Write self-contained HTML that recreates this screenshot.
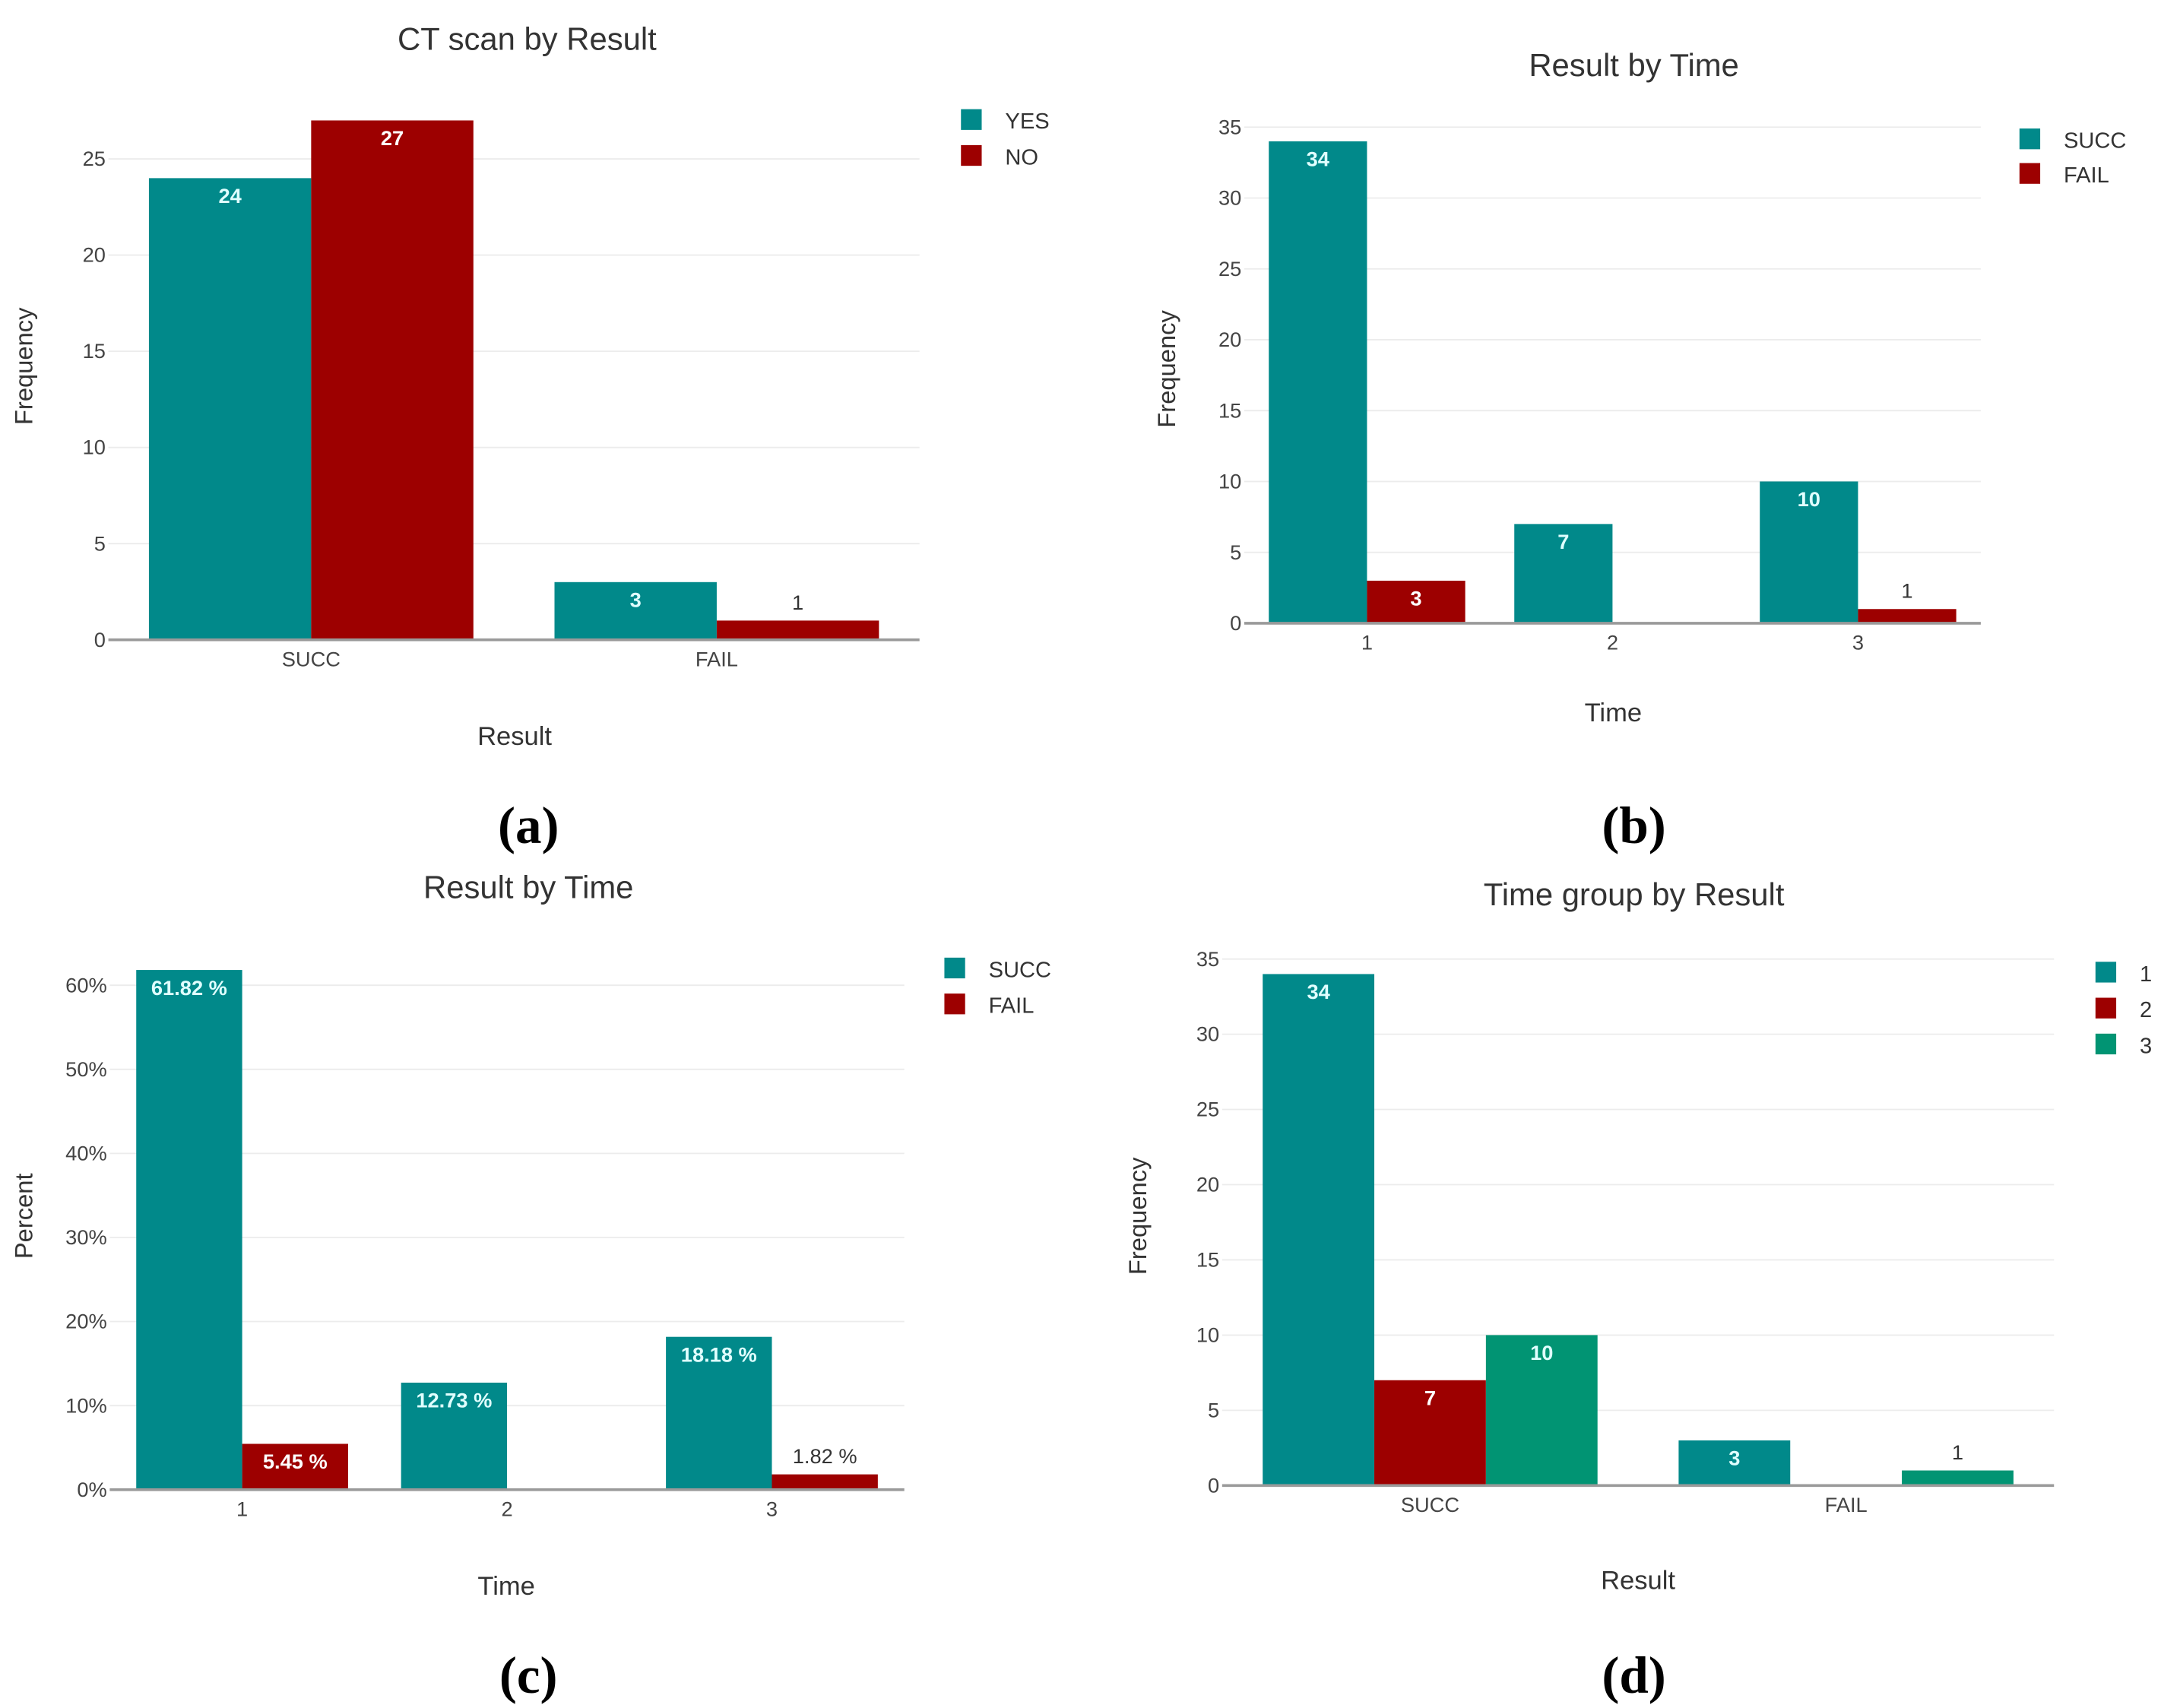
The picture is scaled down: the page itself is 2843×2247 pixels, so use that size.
<!DOCTYPE html>
<html><head><meta charset="utf-8"><style>
html,body{margin:0;padding:0;background:#fff}
svg{display:block}
text{font-family:"Liberation Sans",sans-serif}
</style></head><body>
<svg id="root" width="2843" height="2247" viewBox="0 0 1563 1236" xmlns="http://www.w3.org/2000/svg"></svg>
<script>
// Panel (a)
const aCategories = ["SUCC", "FAIL"];
const aSeriesNames = ["YES", "NO"];
const aYes = [24, 3];
const aNo = [27, 1];
const aTicks = [0, 5, 10, 15, 20, 25];
// Panel (b)
const bCategories = ["1", "2", "3"];
const bSeriesNames = ["SUCC", "FAIL"];
const bSucc = [34, 7, 10];
const bFail = [3, 0, 1];
const bTicks = [0, 5, 10, 15, 20, 25, 30, 35];
// Panel (c)
const cCategories = ["1", "2", "3"];
const cSeriesNames = ["SUCC", "FAIL"];
const cSucc = [61.82, 12.73, 18.18];
const cFail = [5.45, 0, 1.82];
const cTicks = [0, 10, 20, 30, 40, 50, 60];
// Panel (d)
const dCategories = ["SUCC", "FAIL"];
const dSeriesNames = ["1", "2", "3"];
const dT1 = [34, 3];
const dT2 = [7, 0];
const dT3 = [10, 1];
const dTicks = [0, 5, 10, 15, 20, 25, 30, 35];

const TEAL = "#01898a", RED = "#9d0000", GREEN = "#019473";
const NS = "http://www.w3.org/2000/svg";
const root = document.getElementById("root");
function mk(tag, attrs, parent, txt) {
  const e = document.createElementNS(NS, tag);
  for (const k in attrs) e.setAttribute(k, attrs[k]);
  if (txt !== undefined) e.textContent = txt;
  parent.appendChild(e);
  return e;
}

function panel(cfg) {
  const g = mk("g", {}, root);
  
  
  const y = v => cfg.y0 - (v - cfg.vmin) / (cfg.vmax - cfg.vmin) * (cfg.y0 - cfg.yTop);
  const band = (cfg.x1 - cfg.x0) / cfg.cats.length;
  const xc = i => cfg.x0 + band * (i + 0.5);
  // grid + ticks
  cfg.ticks.forEach(t => {
    if (t !== cfg.ticks[0]) {
      const l = mk("line", {x1: cfg.x0, x2: cfg.x1, y1: y(t), y2: y(t), stroke: "#ececec", "stroke-width": 1}, g);
      
      
    }
    const tx = mk("text", {x: cfg.x0 - 2, y: y(t) + 5, "text-anchor": "end", "font-size": 15, fill: "#444"}, g, t + (cfg.pct ? "%" : ""));
    
    
  });
  // bars
  const nS = cfg.series.length;
  const bw = band * cfg.fill / nS;
  cfg.series.forEach((vals, s) => {
    vals.forEach((v, i) => {
      if (v <= 0) return;
      const bx = xc(i) - band * cfg.fill / 2 + s * bw;
      const r = mk("rect", {x: bx, y: y(v), width: bw, height: y(0) - y(v), fill: cfg.colors[s]}, g);
      
      
      const h = y(0) - y(v);
      const lab = cfg.pct ? v.toFixed(2) + " %" : String(v);
      const inside = h > 22;
      const fill = inside ? (cfg.colors[s] === RED ? "#fff" : "#e0ffff") : "#333";
      const t = mk("text", {x: bx + bw / 2, y: inside ? y(v) + 18 : y(v) - 8, "text-anchor": "middle", "font-size": 15, fill: fill, "font-weight": inside ? "bold" : "normal"}, g, lab);
      
      
    });
  });
  // axis line
  const ax = mk("line", {x1: cfg.x0, x2: cfg.x1, y1: y(0), y2: y(0), stroke: "#9a9a9a", "stroke-width": 2}, g);
  
  
  cfg.cats.forEach((c, i) => {
    const t = mk("text", {x: xc(i), y: y(0) + 19, "text-anchor": "middle", "font-size": 15, fill: "#444"}, g, c);
    
    
  });
  const ti = mk("text", {x: cfg.titleX, y: cfg.titleY, "text-anchor": "middle", "font-size": 23, fill: "#333"}, g, cfg.title);
  
  
  const xl = mk("text", {x: cfg.xlX, y: cfg.xlY, "text-anchor": "middle", "font-size": 19, fill: "#333"}, g, cfg.xl);
  
  
  const yl = mk("text", {x: 0, y: 0, "text-anchor": "middle", "font-size": 18, fill: "#333", transform: "translate(" + cfg.ylX + "," + cfg.ylY + ") rotate(-90)"}, g, cfg.yl);
  
  
  cfg.names.forEach((n, s) => {
    const ly = cfg.legY + s * cfg.legDy;
    const sw = mk("rect", {x: cfg.legX, y: ly - 8, width: 15, height: 15, fill: cfg.colors[s]}, g);
    
    
    const lt = mk("text", {x: cfg.legX + 32, y: ly + 6, "font-size": 16, fill: "#333"}, g, n);
    
    
  });
  const cap = mk("text", {x: cfg.capX, y: cfg.capY, "text-anchor": "middle", "font-size": 38, "font-weight": "bold", fill: "#000", style: "font-family:'Liberation Serif',serif"}, g, cfg.cap);
  
  
}

panel({id: "a", cats: aCategories, names: aSeriesNames, series: [aYes, aNo], colors: [TEAL, RED], ticks: aTicks, vmin: 0, vmax: 25,
  y0: 463, yTop: 115, x0: 78, x1: 665, fill: 0.8, title: "CT scan by Result", titleX: 381, titleY: 36,
  xl: "Result", xlX: 372, xlY: 539, yl: "Frequency", ylX: 23, ylY: 265, legX: 695, legY: 87, legDy: 26, cap: "(a)", capX: 382, capY: 610});
panel({id: "b", cats: bCategories, names: bSeriesNames, series: [bSucc, bFail], colors: [TEAL, RED], ticks: bTicks, vmin: 0, vmax: 35,
  y0: 451, yTop: 92, x0: 900, x1: 1433, fill: 0.8, title: "Result by Time", titleX: 1182, titleY: 55,
  xl: "Time", xlX: 1167, xlY: 522, yl: "Frequency", ylX: 850, ylY: 267, legX: 1461, legY: 101, legDy: 25, cap: "(b)", capX: 1182, capY: 610});
panel({id: "c", cats: cCategories, names: cSeriesNames, series: [cSucc, cFail], colors: [TEAL, RED], ticks: cTicks, vmin: 0, vmax: 60, pct: true,
  y0: 1078, yTop: 713, x0: 79, x1: 654, fill: 0.8, title: "Result by Time", titleX: 382, titleY: 650,
  xl: "Time", xlX: 366, xlY: 1154, yl: "Percent", ylX: 23, ylY: 880, legX: 683, legY: 701, legDy: 26, cap: "(c)", capX: 382, capY: 1225});
panel({id: "d", cats: dCategories, names: dSeriesNames, series: [dT1, dT2, dT3], colors: [TEAL, RED, GREEN], ticks: dTicks, vmin: 0, vmax: 35,
  y0: 1075, yTop: 694, x0: 884, x1: 1486, fill: 0.805, title: "Time group by Result", titleX: 1182, titleY: 655,
  xl: "Result", xlX: 1185, xlY: 1150, yl: "Frequency", ylX: 829, ylY: 880, legX: 1516, legY: 704, legDy: 26, cap: "(d)", capX: 1182, capY: 1225});
</script>
</body></html>
